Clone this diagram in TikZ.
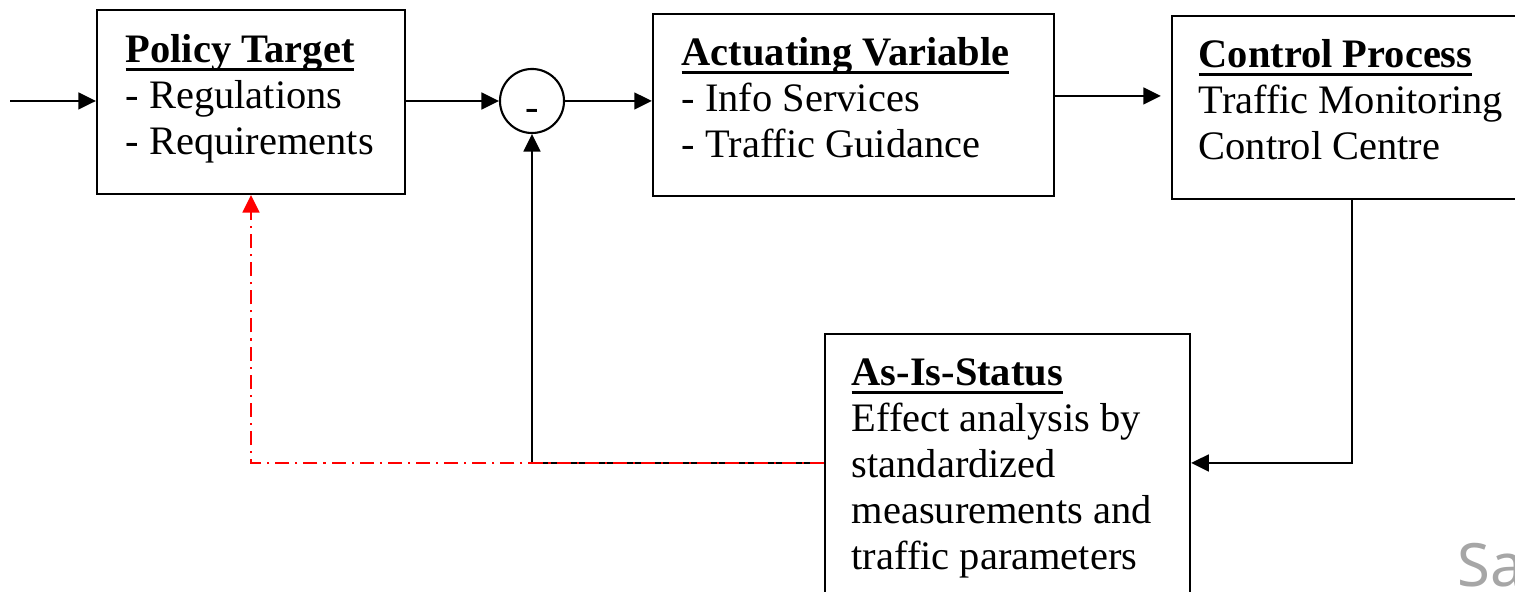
\documentclass[tikz,border=0pt]{standalone}
\usepackage{fontspec}
\setmainfont{Liberation Serif}
\newfontfamily\wmfont{Noto Sans}
\usetikzlibrary{arrows.meta}
% bold heading with a thick underline just below the baseline
\newcommand{\ttl}[1]{\setbox0\hbox{\bfseries #1}\rlap{\rule[-2.3pt]{\wd0}{0.85pt}}\box0}
\tikzset{
  blk/.style={draw,line width=0.6pt,inner sep=0pt},
  txt/.style={anchor=north west,inner sep=0pt,align=left,
    font=\fontsize{11.5}{13.1}\selectfont},
  arr/.style={line width=0.6pt,-{Triangle[length=5pt,width=4.8pt]}},
  fbk/.style={arr,red,dash pattern=on 4pt off 1.7pt on 0.6pt off 1.7pt}
}
\begin{document}
\begin{tikzpicture}[x=0.01cm,y=-0.01cm]
\useasboundingbox (0,0) rectangle (1515,592);
% blocks
\node[blk,minimum width=3.08cm,minimum height=1.84cm] (pol) at (251,102) {};
\node[blk,minimum width=4.01cm,minimum height=1.82cm] (act) at (853.5,105) {};
\node[blk,minimum width=3.60cm,minimum height=1.83cm] (ctl) at (1352,107.5) {};
\node[blk,minimum width=3.65cm,minimum height=2.90cm] (ais) at (1007.5,479) {};
\node[draw,circle,line width=0.6pt,minimum size=0.64cm,inner sep=0pt,
  text height=11pt,text depth=0pt,
  font=\fontsize{11.5}{13.1}\selectfont] (sum) at (532,101) {-};
% texts
\node[txt] (poltxt) at (125,34) {\ttl{Policy Target}\\- Regulations\\- Requirements};
\node[txt] (acttxt) at (681,37) {\ttl{Actuating Variable}\\- Info Services\\- Traffic Guidance};
\node[txt] (ctltxt) at (1198,39) {\ttl{Control Process}\\Traffic Monitoring\\Control Centre};
\node[txt] (aistxt) at (851,358) {\ttl{As-Is-Status}\\Effect analysis by\\standardized\\measurements and\\traffic parameters};
% connectors
\coordinate (in) at (10,101);
\draw[arr] (in) -- (in -| pol.west);
\draw[arr] (pol.east |- sum) -- (sum);
\draw[arr] (sum) -- (sum -| act.west);
\draw[arr,shorten >=0.1cm] ([yshift=0.09cm]act.east) -- ([yshift=0.09cm]act.east -| ctl.west);
\draw[arr] (ctl.south) |- ([yshift=0.16cm]ais.east);
\draw[arr] ([yshift=0.16cm]ais.west) -| (sum);
\draw[fbk] ([yshift=0.16cm]ais.west) -| (pol.south);
% watermark
\node[anchor=base west,inner sep=0pt,font=\wmfont\fontsize{17}{20}\selectfont,
  text=black!35] (wm) at (1457,587) {Sa};
\end{tikzpicture}
\end{document}
